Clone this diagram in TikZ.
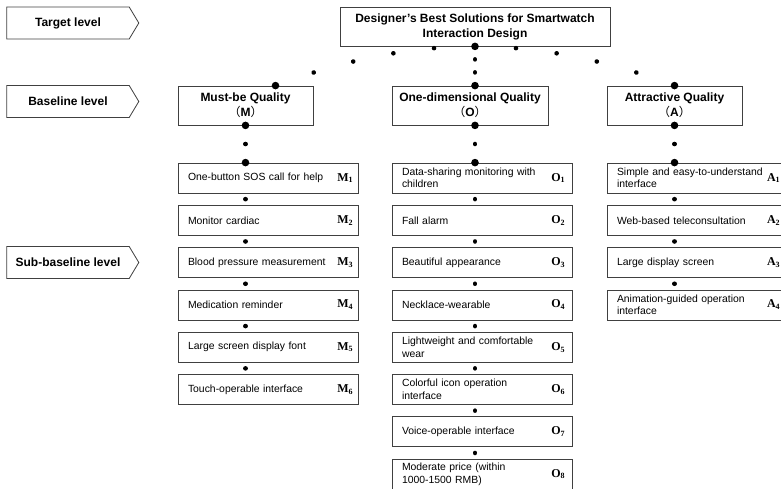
\documentclass[tikz,border=0pt]{standalone}
\usepackage{fontspec}
\setmainfont{Liberation Sans}
\newfontfamily\labfont{Liberation Serif}
\newfontfamily\cjk{Noto Sans CJK SC}
\usetikzlibrary{positioning,shapes.symbols}

\begin{document}
\begin{tikzpicture}[
  x=1pt, y=-1pt,
  node distance=11.5pt,
  level/.style={draw=black!75, line width=0.8pt, signal, signal to=east, signal pointer angle=118, minimum width=132pt, minimum height=32pt, font=\bfseries\fontsize{12}{14}\selectfont},
  head/.style={draw=black!75, line width=0.8pt, align=center, minimum height=39pt, inner sep=3pt, font=\bfseries\fontsize{12}{15}\selectfont},
  item/.style={draw=black!75, line width=0.8pt, align=left, text width=160pt, inner xsep=10pt, inner ysep=2pt, minimum width=180pt, minimum height=30pt, font=\fontsize{10.4}{12.5}\selectfont},
  sub/.style={inner sep=0pt, font=\labfont\bfseries\fontsize{12}{14}\selectfont},
  chain/.style={line width=4.6pt, line cap=round, dash pattern=on 0.01pt off #1},
  gapdot/.style={line width=4.6pt, line cap=round, dash pattern=on 0.01pt off 30pt, dash phase=24.25pt}
]
\clip (0,0) rectangle (781,489);

% levels
\node[level] (tgt) at (68,23) {Target level};
\node[level] (base) at (68,101.5) {Baseline level};
\node[level] (subbase) at (68,262.5) {Sub-baseline level};

% goal and quality types
\node[head, minimum width=270pt] (top) at (475,26.5) {Designer's Best Solutions for Smartwatch\\Interaction Design};
\node[head, minimum width=135pt] (mq) at (245.5,105.5) {Must-be Quality\\{\cjk\mdseries （}M{\cjk\mdseries ）}};
\node[head, minimum width=156pt] (oq) at (470,105.5) {One-dimensional Quality\\{\cjk\mdseries （}O{\cjk\mdseries ）}};
\node[head, minimum width=135pt] (aq) at (674.5,105.5) {Attractive Quality\\{\cjk\mdseries （}A{\cjk\mdseries ）}};
\coordinate (mtop) at ([xshift=30pt]mq.north);

% must-be items
\node[item] (m1) at (268,178) {One-button SOS call for help};
\node[item, below=of m1] (m2) {Monitor cardiac};
\node[item, below=of m2] (m3) {Blood pressure measurement};
\node[item, below=of m3] (m4) {Medication reminder};
\node[item, below=of m4] (m5) {Large screen display font};
\node[item, below=of m5] (m6) {Touch-operable interface};

% one-dimensional items
\node[item] (o1) at (482,178) {Data-sharing monitoring with\\children};
\node[item, below=of o1] (o2) {Fall alarm};
\node[item, below=of o2] (o3) {Beautiful appearance};
\node[item, below=of o3] (o4) {Necklace-wearable};
\node[item, below=of o4] (o5) {Lightweight and comfortable\\wear};
\node[item, below=of o5] (o6) {Colorful icon operation\\interface};
\node[item, below=of o6] (o7) {Voice-operable interface};
\node[item, below=of o7] (o8) {Moderate price (within\\1000-1500 RMB)};

% attractive items
\node[item] (a1) at (697,178) {Simple and easy-to-understand\\interface};
\node[item, below=of a1] (a2) {Web-based teleconsultation};
\node[item, below=of a2] (a3) {Large display screen};
\node[item, below=of a3] (a4) {Animation-guided operation\\interface};

% item marks
\node[sub, left=5pt of m1.east] (m1s) {M\textsubscript{1}};
\node[sub, left=5pt of m2.east] (m2s) {M\textsubscript{2}};
\node[sub, left=5pt of m3.east] (m3s) {M\textsubscript{3}};
\node[sub, left=5pt of m4.east] (m4s) {M\textsubscript{4}};
\node[sub, left=5pt of m5.east] (m5s) {M\textsubscript{5}};
\node[sub, left=5pt of m6.east] (m6s) {M\textsubscript{6}};
\node[sub, left=7pt of o1.east] (o1s) {O\textsubscript{1}};
\node[sub, left=7pt of o2.east] (o2s) {O\textsubscript{2}};
\node[sub, left=7pt of o3.east] (o3s) {O\textsubscript{3}};
\node[sub, left=7pt of o4.east] (o4s) {O\textsubscript{4}};
\node[sub, left=7pt of o5.east] (o5s) {O\textsubscript{5}};
\node[sub, left=7pt of o6.east] (o6s) {O\textsubscript{6}};
\node[sub, left=7pt of o7.east] (o7s) {O\textsubscript{7}};
\node[sub, left=7pt of o8.east] (o8s) {O\textsubscript{8}};
\node[sub, left=7pt of a1.east] (a1s) {A\textsubscript{1}};
\node[sub, left=7pt of a2.east] (a2s) {A\textsubscript{2}};
\node[sub, left=7pt of a3.east] (a3s) {A\textsubscript{3}};
\node[sub, left=7pt of a4.east] (a4s) {A\textsubscript{4}};

% dotted links
\draw[chain=41pt] (top.south) .. controls +(-67,0) and +(67,-25) .. (mtop);
\draw[chain=41pt] (top.south) .. controls +(67,0) and +(-67,-25) .. (aq.north);
\draw[chain=13pt] (top.south) -- (top.south |- oq.north);
\draw[chain=18.6pt] (mq.south) -- (mq.south |- m1.north);
\draw[chain=18.6pt] (top.south |- oq.south) -- (top.south |- o1.north);
\draw[chain=18.6pt] (aq.south) -- (aq.south |- a1.north);
\foreach \p in {top.south, mtop, aq.north, top.south |- oq.north, mq.south, mq.south |- m1.north, top.south |- oq.south, top.south |- o1.north, aq.south, aq.south |- a1.north}
  \fill (\p) circle (3.8pt);

\draw[gapdot] (mq.south |- m1.south) -- (mq.south |- m2.north);
\draw[gapdot] (mq.south |- m2.south) -- (mq.south |- m3.north);
\draw[gapdot] (mq.south |- m3.south) -- (mq.south |- m4.north);
\draw[gapdot] (mq.south |- m4.south) -- (mq.south |- m5.north);
\draw[gapdot] (mq.south |- m5.south) -- (mq.south |- m6.north);
\draw[gapdot] (top.south |- o1.south) -- (top.south |- o2.north);
\draw[gapdot] (top.south |- o2.south) -- (top.south |- o3.north);
\draw[gapdot] (top.south |- o3.south) -- (top.south |- o4.north);
\draw[gapdot] (top.south |- o4.south) -- (top.south |- o5.north);
\draw[gapdot] (top.south |- o5.south) -- (top.south |- o6.north);
\draw[gapdot] (top.south |- o6.south) -- (top.south |- o7.north);
\draw[gapdot] (top.south |- o7.south) -- (top.south |- o8.north);
\draw[gapdot] (aq.south |- a1.south) -- (aq.south |- a2.north);
\draw[gapdot] (aq.south |- a2.south) -- (aq.south |- a3.north);
\draw[gapdot] (aq.south |- a3.south) -- (aq.south |- a4.north);
\end{tikzpicture}
\end{document}
